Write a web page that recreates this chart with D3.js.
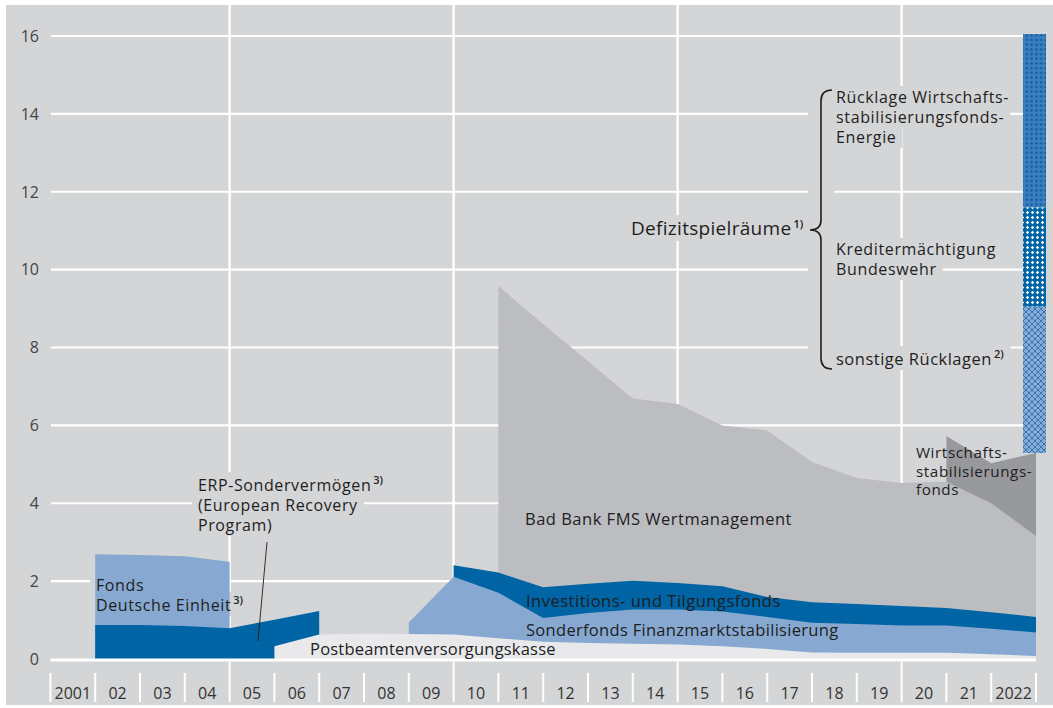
<!DOCTYPE html>
<html>
<head>
<meta charset="utf-8">
<script src="https://cdn.jsdelivr.net/npm/d3@7"></script>
<style>
  body { margin: 0; background: #fff; }
  svg { display: block; font-family: "Open Sans", "Noto Sans", sans-serif; }
</style>
</head>
<body>
<script>
// year-end values, bn euro (null = fund not existing)
const years = d3.range(2001, 2023);
const yearLabels = ["2001", "02", "03", "04", "05", "06", "07", "08", "09", "10", "11",
  "12", "13", "14", "15", "16", "17", "18", "19", "20", "21", "2022"];
const yTicks = [0, 2, 4, 6, 8, 10, 12, 14, 16];

const postbeamten = [null, null, null, null, 0.33, 0.63, 0.65, 0.64, 0.63, 0.53, 0.44,
  0.41, 0.39, 0.37, 0.33, 0.26, 0.17, 0.16, 0.16, 0.16, 0.12, 0.08];
const erp = [0.87, 0.87, 0.85, 0.79, 0.68, 0.60, null, null, null, null, null,
  null, null, null, null, null, null, null, null, null, null, null];
const fondsEinheit = [1.82, 1.80, 1.79, 1.71, null, null, null, null, null, null, null,
  null, null, null, null, null, null, null, null, null, null, null];
const soffin = [null, null, null, null, null, null, null, 0.30, 1.48, 1.17, 0.61,
  0.77, 0.88, 0.90, 0.89, 0.82, 0.76, 0.74, 0.70, 0.70, 0.66, 0.60];
const itf = [null, null, null, null, null, null, null, null, 0.30, 0.52, 0.79,
  0.75, 0.74, 0.68, 0.65, 0.51, 0.53, 0.51, 0.50, 0.45, 0.42, 0.40];
const badBank = [null, null, null, null, null, null, null, null, null, 7.36, 6.76,
  5.72, 4.68, 4.60, 4.13, 4.28, 3.60, 3.24, 3.16, 3.24, 2.80, 2.08];
const wsf = [null, null, null, null, null, null, null, null, null, null, null,
  null, null, null, null, null, null, null, null, 1.18, 1.03, 2.13];

// Defizitspielräume 2022, stacked on top of the funds
const reserveKeys = ["sonstige", "bundeswehr", "energie"];
const reserveValues = [3.76, 2.55, 4.45];

const series = [
  { key: "post", values: postbeamten, color: "#e9e9ec" },
  { key: "erp", values: erp, color: "#0064a5" },
  { key: "fde", values: fondsEinheit, color: "#87a9d1" },
  { key: "soffin", values: soffin, color: "#87a9d1" },
  { key: "itf", values: itf, color: "#0064a5" },
  { key: "badbank", values: badBank, color: "#bcbdc0" },
  { key: "wsf", values: wsf, color: "#98999c" }
];

const W = 1053, H = 708;
const bg = "#d4d5d7";

const svg = d3.select("body").append("svg")
  .attr("width", W)
  .attr("height", H);

const defs = svg.append("defs");

// dotted pattern
const pDots = defs.append("pattern").attr("id", "dots")
  .attr("patternUnits", "userSpaceOnUse").attr("width", 4.7).attr("height", 4.7);
pDots.append("rect").attr("width", 4.7).attr("height", 4.7).attr("fill", "#3a80c0");
pDots.append("circle").attr("cx", 2.35).attr("cy", 2.35).attr("r", 1.15).attr("fill", "#0a5897");

// diamond pattern
const pDia = defs.append("pattern").attr("id", "diamonds")
  .attr("patternUnits", "userSpaceOnUse").attr("width", 5).attr("height", 5);
pDia.append("rect").attr("width", 5).attr("height", 5).attr("fill", "#0064a5");
pDia.append("polygon").attr("points", "2.5,0.8 4.2,2.5 2.5,4.2 0.8,2.5").attr("fill", "#ffffff");

// cross hatch
const pHatch = defs.append("pattern").attr("id", "hatch")
  .attr("patternUnits", "userSpaceOnUse").attr("width", 6).attr("height", 6);
pHatch.append("rect").attr("width", 6).attr("height", 6).attr("fill", "#89abd3");
pHatch.append("path").attr("d", "M0,0L6,6M6,0L0,6")
  .attr("stroke", "#2770b3").attr("stroke-width", 0.9).attr("fill", "none");

svg.append("rect")
  .attr("x", 6).attr("y", 5)
  .attr("width", W - 6).attr("height", 700)
  .attr("fill", bg);

const x = d3.scaleBand()
  .domain(years)
  .range([50.4, 1036])
  .paddingInner(0).paddingOuter(0);

const y = d3.scaleLinear()
  .domain([0, 16])
  .range([659, 36]);

const xEnd = d => x(d) + x.bandwidth();

// grid
const grid = svg.append("g");
grid.selectAll(".hgrid")
  .data(yTicks.filter(d => d > 0))
  .enter().append("line")
  .attr("x1", 51).attr("x2", 1036)
  .attr("y1", d => y(d)).attr("y2", d => y(d))
  .attr("stroke", "#fff").attr("stroke-width", 2.2);

const majors = [2004, 2009, 2014, 2019];
grid.selectAll(".vgrid")
  .data(majors)
  .enter().append("line")
  .attr("x1", d => xEnd(d)).attr("x2", d => xEnd(d))
  .attr("y1", 5).attr("y2", 660)
  .attr("stroke", "#fff").attr("stroke-width", 2.4);

// y labels
svg.append("g").selectAll("text")
  .data(yTicks)
  .enter().append("text")
  .attr("x", 39).attr("y", d => y(d))
  .attr("dy", "0.36em")
  .attr("text-anchor", "end")
  .attr("font-size", 16)
  .attr("fill", "#444")
  .text(d => d);

// knockouts behind labels (filled later)
const knock = svg.append("g");

// stacked areas
const table = years.map((yr, i) => {
  const row = { year: yr };
  series.forEach(s => { row[s.key] = s.values[i] == null ? 0 : s.values[i]; });
  return row;
});
const stacked = d3.stack().keys(series.map(s => s.key))(table);

const area = d3.area()
  .x(d => xEnd(d.data.year))
  .y0(y(0))
  .y1(d => y(d[1]));

const areas = svg.append("g");
series.slice().reverse().forEach(s => {
  const layer = stacked.find(l => l.key === s.key);
  const pts = layer.filter((d, i) => s.values[i] != null);
  areas.append("path")
    .datum(pts)
    .attr("d", area)
    .attr("fill", s.color);
});

// reserve bar at 2022
const lastTop = stacked[stacked.length - 1][years.length - 1][1];
const cum = d3.cumsum(reserveValues);
const reserve = reserveKeys.map((k, i) => ({ key: k, y0: lastTop + (cum[i] - reserveValues[i]), y1: lastTop + cum[i] }));
const fills = { sonstige: "url(#hatch)", bundeswehr: "url(#diamonds)", energie: "url(#dots)" };
const barX = xEnd(2022) - 13;
svg.append("g").selectAll("rect")
  .data(reserve)
  .enter().append("rect")
  .attr("x", barX)
  .attr("width", 23)
  .attr("y", d => y(d.y1))
  .attr("height", d => y(d.y0) - y(d.y1))
  .attr("fill", d => fills[d.key]);

// x axis
const axis = svg.append("g");
axis.append("line")
  .attr("x1", 50.4).attr("x2", 1036)
  .attr("y1", y(0) + 1).attr("y2", y(0) + 1)
  .attr("stroke", "#fff").attr("stroke-width", 3);
const edges = [years[0] - 1].concat(years);
axis.selectAll(".sep")
  .data(edges)
  .enter().append("line")
  .attr("x1", d => d < years[0] ? x(years[0]) : xEnd(d))
  .attr("x2", d => d < years[0] ? x(years[0]) : xEnd(d))
  .attr("y1", d => majors.includes(d) ? 662 : 673)
  .attr("y2", 702)
  .attr("stroke", "#fff").attr("stroke-width", 2);
axis.selectAll(".xl")
  .data(years)
  .enter().append("text")
  .attr("x", d => x(d) + x.bandwidth() / 2)
  .attr("y", 699)
  .attr("text-anchor", "middle")
  .attr("font-size", 16)
  .attr("fill", "#333")
  .text((d, i) => yearLabels[i]);

// labels
const labels = [
  { lines: ["Fonds", "Deutsche Einheit"], sup: [1, "3)"], x: 96, y: 591, lh: 20, size: 16, ls: 0.6, knock: true },
  { lines: ["ERP-Sondervermögen", "(European Recovery", "Program)"], sup: [0, "3)"], x: 198, y: 491, lh: 20, size: 16, ls: 0.6, knock: true },
  { lines: ["Postbeamtenversorgungskasse"], x: 310, y: 655, lh: 20, ls: 0.2 },
  { lines: ["Bad Bank FMS Wertmanagement"], x: 525, y: 525, lh: 20 },
  { lines: ["Investitions- und Tilgungsfonds"], x: 526, y: 607, lh: 20 },
  { lines: ["Sonderfonds Finanzmarktstabilisierung"], x: 526, y: 636, lh: 20, ls: 0.3 },
  { lines: ["Wirtschafts-", "stabilisierungs-", "fonds"], x: 916, y: 458, lh: 18.5, size: 15.2, ls: 0.6 },
  { lines: ["Defizitspielräume"], sup: [0, "1)"], x: 631, y: 235, lh: 20, size: 19, ls: 0.3, knock: true },
  { lines: ["Rücklage Wirtschafts-", "stabilisierungsfonds-", "Energie"], x: 836, y: 103, lh: 20, size: 16, ls: 0.65, knock: true },
  { lines: ["Kreditermächtigung", "Bundeswehr"], x: 836, y: 255, lh: 20, size: 16, ls: 0.65, knock: true },
  { lines: ["sonstige Rücklagen"], sup: [0, "2)"], x: 836, y: 365, lh: 20, knock: true }
];

const txt = svg.append("g").attr("fill", "#1e1e1e");
labels.forEach(l => {
  l.lines.forEach((line, i) => {
    const t = txt.append("text")
      .attr("x", l.x)
      .attr("y", l.y + i * l.lh)
      .attr("font-size", l.size || 16.5)
      .attr("letter-spacing", l.ls == null ? 0.5 : l.ls)
      .text(line);
    if (l.sup && l.sup[0] === i) {
      t.append("tspan")
        .attr("dx", 2)
        .attr("dy", -7)
        .attr("font-size", 11)
        .attr("font-weight", 600)
        .attr("letter-spacing", 0)
        .text(l.sup[1]);
    }
    if (l.knock) {
      const b = t.node().getBBox();
      knock.append("rect")
        .attr("x", b.x - 6).attr("y", b.y)
        .attr("width", b.width + 12).attr("height", b.height)
        .attr("fill", bg);
    }
  });
});

// ERP leader line
svg.append("line")
  .attr("x1", 267).attr("y1", 542)
  .attr("x2", 258).attr("y2", 641)
  .attr("stroke", "#1e1e1e").attr("stroke-width", 0.9);

// brace
const bx = 821, bTop = 90, bBot = 369, bMid = 230;
knock.append("rect")
  .attr("x", bx - 13).attr("y", bTop - 2)
  .attr("width", 26).attr("height", bBot - bTop + 4)
  .attr("fill", bg);
svg.append("path")
  .attr("d", `M${bx + 11},${bTop} Q${bx},${bTop} ${bx},${bTop + 11}
    L${bx},${bMid - 10} Q${bx},${bMid} ${bx - 11},${bMid}
    Q${bx},${bMid} ${bx},${bMid + 10}
    L${bx},${bBot - 11} Q${bx},${bBot} ${bx + 11},${bBot}`)
  .attr("fill", "none")
  .attr("stroke", "#1e1e1e")
  .attr("stroke-width", 1.6);
</script>
</body>
</html>
